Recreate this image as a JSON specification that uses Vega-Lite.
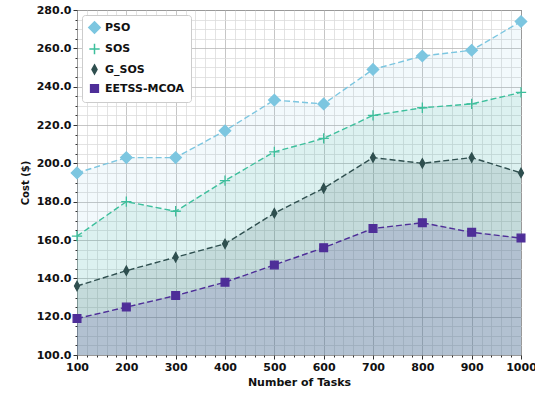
{
  "$schema": "https://vega.github.io/schema/vega-lite/v6.json",
  "width": 444,
  "height": 345,
  "autosize": {"type": "none"},
  "padding": {"left": 77, "top": 10, "right": 14, "bottom": 41},
  "background": "white",
  "config": {
    "view": {"stroke": "#222", "strokeWidth": 1},
    "font": "DejaVu Sans"
  },
  "data": {"values": [
    {"tasks": 100, "cost": 195, "algo": "PSO"},
    {"tasks": 200, "cost": 203, "algo": "PSO"},
    {"tasks": 300, "cost": 203, "algo": "PSO"},
    {"tasks": 400, "cost": 217, "algo": "PSO"},
    {"tasks": 500, "cost": 233, "algo": "PSO"},
    {"tasks": 600, "cost": 231, "algo": "PSO"},
    {"tasks": 700, "cost": 249, "algo": "PSO"},
    {"tasks": 800, "cost": 256, "algo": "PSO"},
    {"tasks": 900, "cost": 259, "algo": "PSO"},
    {"tasks": 1000, "cost": 274, "algo": "PSO"},
    {"tasks": 100, "cost": 162, "algo": "SOS"},
    {"tasks": 200, "cost": 180, "algo": "SOS"},
    {"tasks": 300, "cost": 175, "algo": "SOS"},
    {"tasks": 400, "cost": 191, "algo": "SOS"},
    {"tasks": 500, "cost": 206, "algo": "SOS"},
    {"tasks": 600, "cost": 213, "algo": "SOS"},
    {"tasks": 700, "cost": 225, "algo": "SOS"},
    {"tasks": 800, "cost": 229, "algo": "SOS"},
    {"tasks": 900, "cost": 231, "algo": "SOS"},
    {"tasks": 1000, "cost": 237, "algo": "SOS"},
    {"tasks": 100, "cost": 136, "algo": "G_SOS"},
    {"tasks": 200, "cost": 144, "algo": "G_SOS"},
    {"tasks": 300, "cost": 151, "algo": "G_SOS"},
    {"tasks": 400, "cost": 158, "algo": "G_SOS"},
    {"tasks": 500, "cost": 174, "algo": "G_SOS"},
    {"tasks": 600, "cost": 187, "algo": "G_SOS"},
    {"tasks": 700, "cost": 203, "algo": "G_SOS"},
    {"tasks": 800, "cost": 200, "algo": "G_SOS"},
    {"tasks": 900, "cost": 203, "algo": "G_SOS"},
    {"tasks": 1000, "cost": 195, "algo": "G_SOS"},
    {"tasks": 100, "cost": 119, "algo": "EETSS-MCOA"},
    {"tasks": 200, "cost": 125, "algo": "EETSS-MCOA"},
    {"tasks": 300, "cost": 131, "algo": "EETSS-MCOA"},
    {"tasks": 400, "cost": 138, "algo": "EETSS-MCOA"},
    {"tasks": 500, "cost": 147, "algo": "EETSS-MCOA"},
    {"tasks": 600, "cost": 156, "algo": "EETSS-MCOA"},
    {"tasks": 700, "cost": 166, "algo": "EETSS-MCOA"},
    {"tasks": 800, "cost": 169, "algo": "EETSS-MCOA"},
    {"tasks": 900, "cost": 164, "algo": "EETSS-MCOA"},
    {"tasks": 1000, "cost": 161, "algo": "EETSS-MCOA"}
  ]},
  "encoding": {
    "x": {
      "field": "tasks", "type": "quantitative",
      "scale": {"domain": [100, 1000], "nice": false, "zero": false},
      "axis": {
        "title": "Number of Tasks",
        "titleFontWeight": "bold", "titleFontSize": 11, "titleColor": "#111", "titlePadding": 4,
        "values": [100,120,140,160,180,200,220,240,260,280,300,320,340,360,380,400,420,440,460,480,500,520,540,560,580,600,620,640,660,680,700,720,740,760,780,800,820,840,860,880,900,920,940,960,980,1000],
        "labelExpr": "datum.value % 100 === 0 ? format(datum.value, 'd') : ''",
        "labelOverlap": false, "labelFlush": false,
        "labelFontWeight": "bold", "labelFontSize": 11, "labelColor": "#111",
        "grid": true,
        "gridColor": {"condition": {"test": "datum.value % 100 === 0", "value": "#b8b8b8"}, "value": "#dcdcdc"},
        "gridWidth": 0.8,
        "tickSize": {"condition": {"test": "datum.value % 100 === 0", "value": 4}, "value": 2},
        "tickColor": "#333",
        "domain": false
      }
    },
    "y": {
      "field": "cost", "type": "quantitative", "stack": null,
      "scale": {"domain": [100, 280], "nice": false, "zero": false},
      "axis": {
        "title": "Cost ($)",
        "titleFontWeight": "bold", "titleFontSize": 10, "titleColor": "#111", "titlePadding": 6,
        "values": [100,105,110,115,120,125,130,135,140,145,150,155,160,165,170,175,180,185,190,195,200,205,210,215,220,225,230,235,240,245,250,255,260,265,270,275,280],
        "labelExpr": "datum.value % 20 === 0 ? format(datum.value, '.1f') : ''",
        "labelOverlap": false, "labelFlush": false,
        "labelFontWeight": "bold", "labelFontSize": 11, "labelColor": "#111",
        "grid": true,
        "gridColor": {"condition": {"test": "datum.value % 20 === 0", "value": "#b8b8b8"}, "value": "#dcdcdc"},
        "gridWidth": 0.8,
        "tickSize": {"condition": {"test": "datum.value % 20 === 0", "value": 4}, "value": 2},
        "tickColor": "#333",
        "domain": false
      }
    },
    "color": {
      "field": "algo", "type": "nominal",
      "scale": {"domain": ["PSO", "SOS", "G_SOS", "EETSS-MCOA"], "range": ["#7cc6e0", "#3dbf9c", "#2f4f4f", "#4e2e98"]},
      "legend": {
        "title": null, "orient": "top-left", "offset": 5,
        "fillColor": "white", "strokeColor": "#cccccc", "cornerRadius": 3, "padding": 6,
        "labelFontWeight": "bold", "labelFontSize": 11, "labelColor": "#111",
        "rowPadding": 3, "symbolStrokeWidth": 1.5, "symbolOpacity": 1
      }
    }
  },
  "layer": [
    {
      "mark": {"type": "area", "interpolate": "linear", "opacity": 1},
      "encoding": {
        "y2": {"datum": 100},
        "fillOpacity": {
          "field": "algo", "type": "nominal",
          "scale": {"domain": ["PSO", "SOS", "G_SOS", "EETSS-MCOA"], "range": [0.1, 0.15, 0.06, 0.1]},
          "legend": null
        }
      }
    },
    {
      "mark": {"type": "line", "strokeWidth": 1.4, "strokeDash": [6, 3]},
      "encoding": {"order": {"field": "tasks"}}
    },
    {
      "mark": {"type": "point", "filled": true, "opacity": 1, "strokeWidth": 1.3},
      "encoding": {
        "stroke": {
          "field": "algo", "type": "nominal",
          "scale": {"domain": ["PSO", "SOS", "G_SOS", "EETSS-MCOA"], "range": ["#7cc6e0", "#3dbf9c", "#2f4f4f", "#4e2e98"]},
          "legend": null
        },
        "shape": {
          "field": "algo", "type": "nominal",
          "scale": {"domain": ["PSO", "SOS", "G_SOS", "EETSS-MCOA"], "range": ["diamond", "M-1,0L1,0M0,-1L0,1", "M0,-1L0.55,0L0,1L-0.55,0Z", "square"]},
          "legend": {
            "title": null, "orient": "top-left", "offset": 5,
            "fillColor": "white", "strokeColor": "#cccccc", "cornerRadius": 3, "padding": 6,
            "labelFontWeight": "bold", "labelFontSize": 11, "labelColor": "#111",
            "rowPadding": 3, "symbolStrokeWidth": 1.5, "symbolOpacity": 1
          }
        },
        "size": {
          "field": "algo", "type": "nominal",
          "scale": {"domain": ["PSO", "SOS", "G_SOS", "EETSS-MCOA"], "range": [130, 60, 100, 64]},
          "legend": null
        }
      }
    }
  ]
}
